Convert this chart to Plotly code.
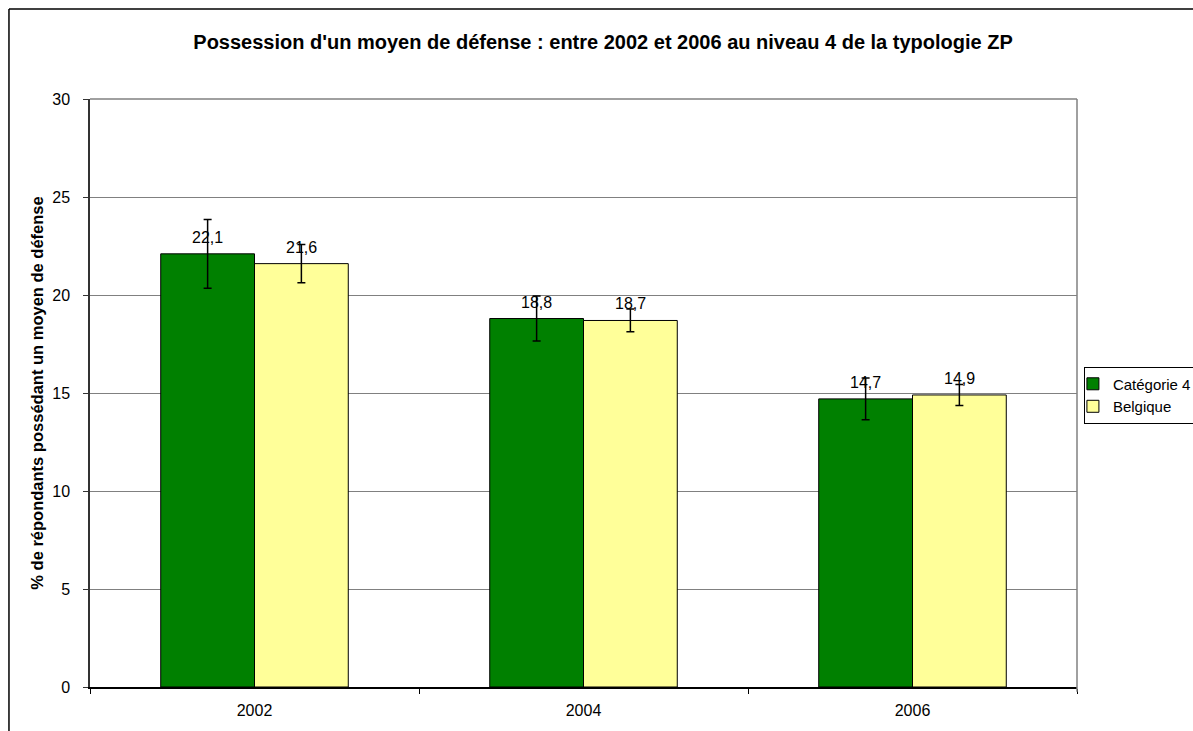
# Possession d'un moyen de défense - niveau 4 de la typologie ZP
import plotly.graph_objects as go

annees = ['2002', '2004', '2006']
categorie4 = [22.1, 18.8, 14.7]
categorie4_err = [1.75, 1.15, 1.07]
belgique = [21.6, 18.7, 14.9]
belgique_err = [0.98, 0.58, 0.54]

fig = go.Figure()

fig.add_trace(go.Bar(
    x=annees, y=categorie4, name='Catégorie 4',
    marker=dict(color='#008000', line=dict(color='black', width=1)),
    error_y=dict(type='data', array=categorie4_err, color='black', thickness=1.5, width=4),
))
fig.add_trace(go.Bar(
    x=annees, y=belgique, name='Belgique',
    marker=dict(color='#FFFF99', line=dict(color='black', width=1)),
    error_y=dict(type='data', array=belgique_err, color='black', thickness=1.5, width=4),
))

# étiquettes de valeurs au-dessus des barres (x = index de catégorie)
labels = []
for serie, decal in [(categorie4, -47), (belgique, 47)]:
    for i, v in enumerate(serie):
        labels.append(dict(
            x=i, y=v, xref='x', yref='y', text=f'{v:.1f}'.replace('.', ','),
            showarrow=False, xshift=decal, yshift=6, yanchor='bottom',
            font=dict(size=16, color='black'),
        ))

fig.update_layout(
    width=1193, height=731,
    paper_bgcolor='white', plot_bgcolor='white',
    font=dict(family='Liberation Sans, Arial, sans-serif', size=16, color='black'),
    title=dict(
        text="<b>Possession d'un moyen de défense : entre 2002 et 2006 au niveau 4 de la typologie ZP</b>",
        x=0.5055, xanchor='center', y=0.9425, yanchor='middle', font=dict(size=20),
    ),
    margin=dict(l=90, r=116, t=99, b=44, autoexpand=False),
    barmode='group', bargap=0.43, bargroupgap=0,
    showlegend=True,
    legend=dict(
        x=1.007, y=0.545, xanchor='left', yanchor='top',
        bordercolor='black', borderwidth=1, bgcolor='white',
        font=dict(size=15), tracegroupgap=0, indentation=-12,
    ),
    annotations=labels,
    shapes=[
        # cadre extérieur du graphique (gauche et haut)
        dict(type='line', xref='paper', yref='paper', x0=-0.0821, x1=-0.0821, y0=-0.2, y1=1.153,
             line=dict(color='black', width=1.5), layer='below'),
        dict(type='line', xref='paper', yref='paper', x0=-0.0821, x1=1.3, y0=1.153, y1=1.153,
             line=dict(color='black', width=1.5), layer='below'),
        # bord haut et droit de la zone de traçage
        dict(type='line', xref='paper', yref='paper', x0=0, x1=1, y0=1, y1=1,
             line=dict(color='#808080', width=1.5)),
        dict(type='line', xref='paper', yref='paper', x0=1, x1=1, y0=-0.008, y1=1,
             line=dict(color='#808080', width=1.5)),
    ],
)

fig.update_xaxes(
    type='category', range=[-0.5, 2.5], autorange=False,
    showline=True, linecolor='black', linewidth=1.5,
    ticks='outside', tickson='boundaries', ticklen=5, tickcolor='black',
    showgrid=False, tickfont=dict(size=16), tickangle=0, ticklabelstandoff=8,
)
fig.update_yaxes(
    range=[0, 30], autorange=False, dtick=5, showline=True, linecolor='#333333', linewidth=1.5,
    ticks='outside', ticklen=5, tickcolor='#333333', ticklabelstandoff=10,
    showgrid=True, gridcolor='#808080', gridwidth=1, zeroline=False,
    tickfont=dict(size=16),
    title=dict(text='<b>% de répondants possédant un moyen de défense</b>', font=dict(size=16.5), standoff=4),
)

# la page n'a plus de marge : la figure occupe exactement la fenêtre
fig.write_html('out.html', config={'displayModeBar': False},
               post_script="document.body.style.margin='0';")
